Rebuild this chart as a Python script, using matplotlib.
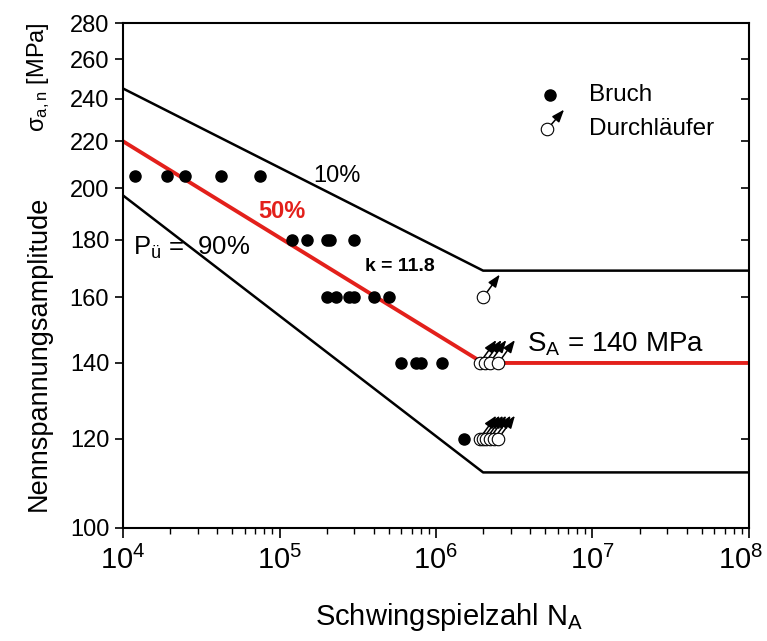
import matplotlib
matplotlib.use("Agg")
import matplotlib.pyplot as plt
import matplotlib.transforms as mtransforms
from matplotlib.ticker import FixedLocator, NullFormatter, LogLocator, NullLocator

plt.rcParams['font.family'] = ['Liberation Sans', 'DejaVu Sans']
plt.rcParams['mathtext.fontset'] = 'custom'
plt.rcParams['mathtext.rm'] = 'Liberation Sans'
plt.rcParams['mathtext.it'] = 'Liberation Sans:italic'
plt.rcParams['mathtext.bf'] = 'Liberation Sans:bold'

# ---- data ----
bruch_N = [1.2e4, 1.9e4, 2.5e4, 4.2e4, 7.5e4,
           1.2e5, 1.5e5, 2.0e5, 2.1e5, 3.0e5,
           2.0e5, 2.3e5, 2.8e5, 3.0e5, 4.0e5, 5.0e5,
           6.0e5, 7.5e5, 8.0e5, 1.1e6,
           1.5e6]
bruch_S = [205] * 5 + [180] * 5 + [160] * 6 + [140] * 4 + [120]

durch_N = [2.0e6,
           1.9e6, 2.05e6, 2.2e6, 2.5e6,
           1.9e6, 2.0e6, 2.1e6, 2.2e6, 2.35e6, 2.5e6]
durch_S = [160] + [140] * 4 + [120] * 6

line_N = [1e4, 2e6, 1e8]
s10 = [245, 169, 169]
s50 = [220, 140, 140]
s90 = [197, 112, 112]

y_ticks = [100, 120, 140, 160, 180, 200, 220, 240, 260, 280]
x_ticks = [1e4, 1e5, 1e6, 1e7, 1e8]
x_ticklabels = [r'$\mathregular{10^{4}}$', r'$\mathregular{10^{5}}$', r'$\mathregular{10^{6}}$',
                r'$\mathregular{10^{7}}$', r'$\mathregular{10^{8}}$']

RED = '#e3201b'
ARROW = dict(arrowstyle='<|-,head_length=0.75,head_width=0.28', color='black',
             lw=1.1, shrinkA=0, shrinkB=4.5)

fig = plt.figure(figsize=(7.67, 6.41), dpi=100)
ax = fig.add_axes([0.1604, 0.1763, 0.8161, 0.7878])
ax.set_xscale('log')
ax.set_yscale('log')
ax.set_xlim(1e4, 1e8)
ax.set_ylim(100, 280)

ax.plot(line_N, s10, color='black', lw=1.8, zorder=2)
ax.plot(line_N, s90, color='black', lw=1.8, zorder=2)
ax.plot(line_N, s50, color=RED, lw=2.8, zorder=2)

ax.plot(bruch_N, bruch_S, 'o', color='black', ms=8, zorder=4)
for n, s in zip(durch_N, durch_S):
    ax.annotate('', xy=(n, s), xycoords='data', xytext=(12, 16.5), textcoords='offset points',
                arrowprops=ARROW, zorder=3)
ax.plot(durch_N, durch_S, 'o', mfc='white', mec='black', mew=0.8, ms=9, zorder=5)

# ticks
ax.yaxis.set_major_locator(FixedLocator(y_ticks))
ax.yaxis.set_minor_locator(NullLocator())
ax.set_yticklabels([str(v) for v in y_ticks])
ax.yaxis.set_minor_formatter(NullFormatter())
ax.xaxis.set_major_locator(FixedLocator(x_ticks))
ax.set_xticklabels(x_ticklabels)
ax.xaxis.set_minor_locator(LogLocator(base=10, subs=range(2, 10), numticks=20))
ax.xaxis.set_minor_formatter(NullFormatter())

ax.tick_params(axis='y', which='major', direction='out', length=6, width=1.2, labelsize=17,
               left=True, right=True, pad=4)
ax.tick_params(axis='x', which='major', direction='out', length=7, width=1.2, labelsize=21,
               bottom=True, top=False, pad=6)
ax.tick_params(axis='x', which='minor', direction='out', length=4, width=1.0, bottom=True, top=False)
for t in ax.yaxis.get_major_ticks():
    t.tick2line.set_marker(matplotlib.lines.TICKLEFT)
    t.tick2line.set_markersize(6)

# keep the last x tick label inside the picture
last = ax.get_xticklabels()[-1]
last.set_transform(last.get_transform() + mtransforms.ScaledTranslation(-6 / 72, 0, fig.dpi_scale_trans))

for sp in ax.spines.values():
    sp.set_linewidth(1.5)

# labels
ax.text(-0.135, 0.345, 'Nennspannungsamplitude', transform=ax.transAxes, rotation=90,
        ha='center', va='center', fontsize=19.5)
ax.text(-0.135, 0.893, r'$\mathregular{\sigma_{a,n}}$ [MPa]', transform=ax.transAxes, rotation=90,
        ha='center', va='center', fontsize=17)
fig.text(0.585, 0.038, r'Schwingspielzahl N$_\mathregular{A}$', ha='center', va='center', fontsize=21)

# annotations
ax.text(1.65e5, 205, '10%', fontsize=17, ha='left', va='center')
ax.text(1.04e5, 190.5, '50%', fontsize=17, ha='center', va='center', color=RED, fontweight='bold')
ax.text(1.16e4, 177, r'P$_\mathregular{ü}$ =  90%', fontsize=18.5, ha='left', va='center')
ax.text(5.9e5, 170.6, 'k = 11.8', fontsize=14, ha='center', va='center', fontweight='bold')
ax.text(3.8e6, 141.5, r'S$_\mathregular{A}$ = 140 MPa', fontsize=20, ha='left', va='bottom')

# legend
ax.plot([0.682], [0.858], 'o', color='black', ms=8, transform=ax.transAxes, clip_on=False)
ax.annotate('', xy=(0.678, 0.790), xycoords='axes fraction', xytext=(12, 14), textcoords='offset points',
            arrowprops=ARROW)
ax.plot([0.678], [0.790], 'o', mfc='white', mec='black', mew=0.8, ms=9, transform=ax.transAxes)
ax.text(0.745, 0.858, 'Bruch', transform=ax.transAxes, fontsize=17.5, ha='left', va='center')
ax.text(0.745, 0.790, 'Durchläufer', transform=ax.transAxes, fontsize=17.5, ha='left', va='center')

fig.savefig('out.png', dpi=100)
